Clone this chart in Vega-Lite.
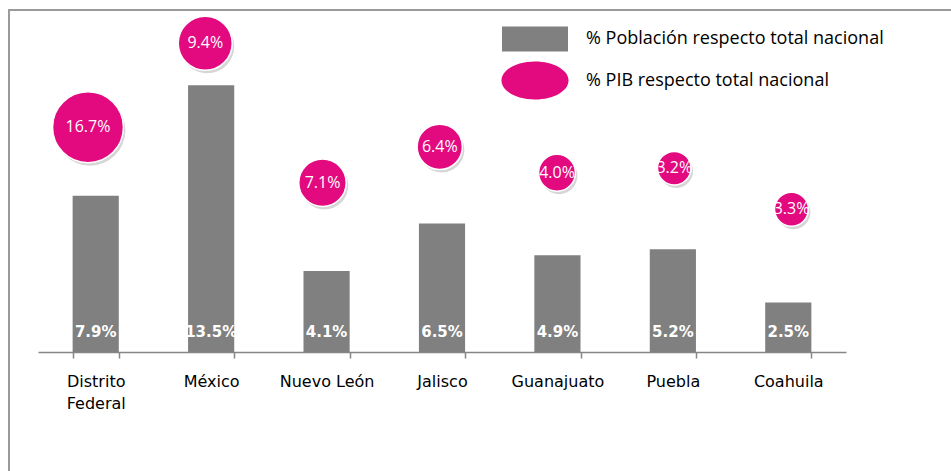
{
  "$schema": "https://vega.github.io/schema/vega-lite/v6.json",
  "autosize": {"type": "none"},
  "width": 945,
  "height": 465,
  "padding": {"left": 9, "top": 10, "right": -3, "bottom": -4},
  "background": "#ffffff",
  "config": {
    "view": {"stroke": "#9a9a9a", "strokeWidth": 2},
    "font": "DejaVu Sans"
  },
  "data": {
    "values": [
      {"estado": "Distrito Federal", "n": 1, "pob": 0.079, "pib": 0.167, "ypib": 0.1137},
      {"estado": "México", "n": 2, "pob": 0.135, "pib": 0.094, "ypib": 0.1562},
      {"estado": "Nuevo León", "n": 3, "pob": 0.041, "pib": 0.071, "ypib": 0.0856},
      {"estado": "Jalisco", "n": 4, "pob": 0.065, "pib": 0.064, "ypib": 0.1038},
      {"estado": "Guanajuato", "n": 5, "pob": 0.049, "pib": 0.040, "ypib": 0.0907},
      {"estado": "Puebla", "n": 6, "pob": 0.052, "pib": 0.032, "ypib": 0.0930},
      {"estado": "Coahuila", "n": 7, "pob": 0.025, "pib": 0.033, "ypib": 0.0722}
    ]
  },
  "resolve": {"scale": {"x": "independent"}, "axis": {"x": "independent"}},
  "layer": [
    {
      "mark": {"type": "bar", "color": "#808080"},
      "encoding": {
        "x": {
          "field": "estado", "type": "nominal", "sort": null,
          "scale": {"range": [29, 837], "paddingInner": 0.6, "paddingOuter": 0.3},
          "axis": {
            "title": null, "labelAngle": 0, "offset": -123,
            "labelFont": "DejaVu Sans", "labelFontSize": 16, "labelColor": "#000000",
            "labelPadding": 15, "labelLineHeight": 22,
            "labelExpr": "datum.value == 'Distrito Federal' ? ['Distrito', 'Federal'] : datum.value",
            "domainColor": "#868686", "domainWidth": 1.5,
            "tickColor": "#868686", "tickWidth": 1.5, "tickSize": 6, "tickBand": "extent",
            "grid": false
          }
        },
        "y": {"field": "pob", "type": "quantitative", "scale": {"domain": [0, 0.17], "range": [342, 6]}, "axis": null},
        "color": {
          "datum": "% Población respecto total nacional",
          "type": "nominal",
          "scale": {
            "domain": ["% Población respecto total nacional", "% PIB respecto total nacional"],
            "range": ["#808080", "#E3097F"]
          },
          "legend": {
            "title": null,
            "orient": "none",
            "legendX": 506,
            "legendY": 9,
            "padding": 0,
            "symbolSize": 1600,
            "symbolStrokeWidth": 0,
            "labelOffset": 31,
            "labelFont": "Open Sans",
            "labelFontSize": 18,
            "labelColor": "#000000",
            "labelLimit": 400,
            "rowPadding": 8.5,
            "encode": {
              "symbols": {
                "update": {
                  "shape": {"signal": "datum.value === '% PIB respecto total nacional' ? 'M-1.675,0A1.675,0.95,0,1,1,1.675,0A1.675,0.95,0,1,1,-1.675,0Z' : 'M-1.65,-0.625H1.65V0.625H-1.65Z'"},
                  "strokeWidth": {"value": 0},
                  "opacity": {"value": 1}
                }
              }
            }
          }
        }
      }
    },
    {
      "mark": {"type": "text", "color": "#ffffff", "font": "DejaVu Sans", "fontWeight": "bold", "fontSize": 15, "baseline": "middle", "align": "center", "dy": -20},
      "encoding": {
        "x": {"field": "estado", "type": "nominal", "sort": null, "scale": {"range": [29, 837], "paddingInner": 0.6, "paddingOuter": 0.3}, "axis": null},
        "y": {"datum": 0, "type": "quantitative", "scale": {"domain": [0, 0.17], "range": [342, 6]}},
        "text": {"field": "pob", "type": "quantitative", "format": ".1%"}
      }
    },
    {
      "mark": {"type": "circle", "color": "#000000", "opacity": 0.16, "xOffset": 2, "yOffset": 3},
      "encoding": {
        "x": {"field": "n", "type": "quantitative", "scale": {"domain": [1, 7], "range": [79, 782.5]}, "axis": null},
        "y": {"field": "ypib", "type": "quantitative", "scale": {"domain": [0, 0.17], "range": [342, 6]}},
        "size": {"field": "pib", "type": "quantitative", "scale": {"domain": [0, 0.167], "range": [200, 5027]}, "legend": null}
      }
    },
    {
      "mark": {"type": "circle", "opacity": 1, "stroke": "#ffffff", "strokeWidth": 1.5},
      "encoding": {
        "x": {"field": "n", "type": "quantitative", "scale": {"domain": [1, 7], "range": [79, 782.5]}, "axis": null},
        "y": {"field": "ypib", "type": "quantitative", "scale": {"domain": [0, 0.17], "range": [342, 6]}},
        "size": {"field": "pib", "type": "quantitative", "scale": {"domain": [0, 0.167], "range": [200, 5027]}, "legend": null},
        "color": {"datum": "% PIB respecto total nacional", "type": "nominal"}
      }
    },
    {
      "mark": {"type": "text", "color": "#ffffff", "font": "Open Sans", "fontSize": 16, "baseline": "middle", "align": "center"},
      "encoding": {
        "x": {"field": "n", "type": "quantitative", "scale": {"domain": [1, 7], "range": [79, 782.5]}, "axis": null},
        "y": {"field": "ypib", "type": "quantitative", "scale": {"domain": [0, 0.17], "range": [342, 6]}},
        "text": {"field": "pib", "type": "quantitative", "format": ".1%"}
      }
    }
  ]
}
